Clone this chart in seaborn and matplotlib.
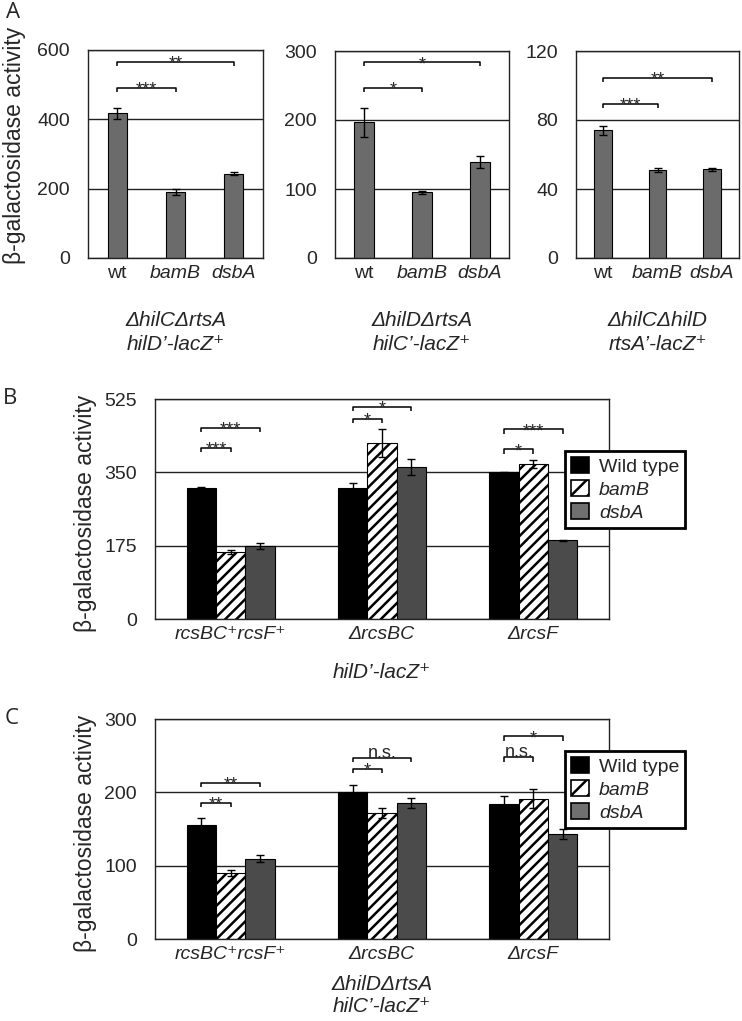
import numpy as np
import pandas as pd
import matplotlib
matplotlib.use("Agg")
import matplotlib.pyplot as plt
import seaborn as sns
from matplotlib.patches import Patch

sns.set_theme(style="white")
plt.rcParams['font.family'] = ['Liberation Sans', 'DejaVu Sans']
plt.rcParams['hatch.linewidth'] = 1.8
plt.rcParams['hatch.color'] = 'black'

W, H = 742, 1021

# ---- panel A data ----
a_strains = ["wt", "bamB", "dsbA"]
a_vals = [[417, 190, 243], [197, 95, 139], [74, 50.8, 51.4]]
a_errs = [[15, 9, 4], [21, 2, 9], [2.5, 1.2, 0.8]]
a_ymax = [600, 300, 120]
a_ticks = [[0, 200, 400, 600], [0, 100, 200, 300], [0, 40, 80, 120]]
a_labels = [("ΔhilCΔrtsA", "hilD’-lacZ⁺"),
            ("ΔhilDΔrtsA", "hilC’-lacZ⁺"),
            ("ΔhilCΔhilD", "rtsA’-lacZ⁺")]
# (text, from, to, height)
a_sig = [[("***", 0, 1, 491), ("**", 0, 2, 566)],
         [("*", 0, 1, 247), ("*", 0, 2, 284)],
         [("***", 0, 1, 89.4), ("**", 0, 2, 104.4)]]

# ---- panels B / C data ----
groups = ["rcsBC⁺rcsF⁺", "ΔrcsBC", "ΔrcsF"]
strains = ["Wild type", "bamB", "dsbA"]
b_vals = {"Wild type": [313, 313, 350], "bamB": [160, 420, 370], "dsbA": [175, 362, 188]}
b_errs = {"Wild type": [3, 11, 1], "bamB": [4, 33, 10], "dsbA": [7, 19, 1]}
b_ticks = [0, 175, 350, 525]
b_sig = [("***", 0, 0, 1, 409), ("***", 0, 0, 2, 456),
         ("*", 1, 0, 1, 478), ("*", 1, 0, 2, 506),
         ("*", 2, 0, 1, 405), ("***", 2, 0, 2, 453)]

c_vals = {"Wild type": [155, 200, 184.5], "bamB": [90, 172, 191], "dsbA": [109.5, 185, 143]}
c_errs = {"Wild type": [10, 10, 10], "bamB": [4, 7, 13], "dsbA": [5, 7, 7]}
c_ticks = [0, 100, 200, 300]
c_sig = [("**", 0, 0, 1, 185.5), ("**", 0, 0, 2, 212.7),
         ("*", 1, 0, 1, 231.8), ("n.s.", 1, 0, 2, 246.8),
         ("n.s.", 2, 0, 1, 247.7), ("*", 2, 0, 2, 276.3)]

bar_colors = {"Wild type": "#000000", "bamB": "#ffffff", "dsbA": "#4b4b4b"}


def px_axes(fig, x0, y0, x1, y1):
    return fig.add_axes([x0 / W, 1 - y1 / H, (x1 - x0) / W, (y1 - y0) / H])


def style_axes(ax, ymax, ticks):
    ax.set_ylim(0, ymax)
    ax.set_xlim(-0.5, 2.5)
    ax.set_yticks(ticks)
    ax.yaxis.grid(True, color='#222222', linewidth=1.0)
    ax.set_axisbelow(True)
    for s in ax.spines.values():
        s.set_visible(True)
        s.set_color('#222222')
        s.set_linewidth(1.0)
    ax.tick_params(axis='y', length=0, pad=13, labelsize=14)
    ax.tick_params(axis='x', length=0, pad=5, labelsize=14)
    ax.set_xlabel("")


def bracket(ax, x0, x1, y, text, ymax):
    tick = ymax * 0.02
    ax.plot([x0, x0, x1, x1], [y - tick, y, y, y - tick], color='black',
            lw=1.1, zorder=5, solid_capstyle='butt')
    dy = 0 if text == "n.s." else -5
    ax.annotate(text, xy=((x0 + x1) / 2, y), xytext=(0, dy), textcoords='offset points',
                ha='center', va='baseline', fontsize=13, zorder=6)


fig = plt.figure(figsize=(W / 100, H / 100), dpi=100)

# ---------- panel A ----------
a_boxes = [(88, 50, 263, 258), (335, 51, 509, 258), (576, 51, 739, 258)]
for k, box in enumerate(a_boxes):
    ax = px_axes(fig, *box)
    df = pd.DataFrame({"strain": a_strains, "value": a_vals[k]})
    sns.barplot(data=df, x="strain", y="value", color="#6b6b6b", width=0.33,
                errorbar=None, edgecolor='black', linewidth=0.8, saturation=1, ax=ax)
    bars = list(ax.containers[0])
    xs = [b.get_x() + b.get_width() / 2 for b in bars]
    ax.errorbar(xs, a_vals[k], yerr=a_errs[k], fmt='none', ecolor='black',
                elinewidth=1.0, capsize=3, capthick=1.0, zorder=4)
    style_axes(ax, a_ymax[k], a_ticks[k])
    ax.set_ylabel("")
    for lbl in ax.get_xticklabels():
        if lbl.get_text() != "wt":
            lbl.set_fontstyle('italic')
    for text, i0, i1, y in a_sig[k]:
        bracket(ax, xs[i0], xs[i1], y, text, a_ymax[k])
    cx = (box[0] + box[2]) / 2 / W
    fig.text(cx, 1 - 320 / H, a_labels[k][0], ha='center', va='center',
             fontsize=15, fontstyle='italic')
    fig.text(cx, 1 - 344 / H, a_labels[k][1], ha='center', va='center',
             fontsize=15, fontstyle='italic')
    if k == 0:
        ax.set_ylabel("β-galactosidase activity", fontsize=16.5)
        ax.yaxis.set_label_coords(-0.355, 0.54)


def grouped_panel(box, vals, errs, ymax, ticks, sig, legend_top):
    ax = px_axes(fig, *box)
    rows = []
    for s in strains:
        for g, v in zip(groups, vals[s]):
            rows.append({"group": g, "strain": s, "value": v})
    df = pd.DataFrame(rows)
    sns.barplot(data=df, x="group", y="value", hue="strain", hue_order=strains,
                palette=bar_colors, width=0.58, errorbar=None, edgecolor='black',
                linewidth=0.8, saturation=1, legend=False, ax=ax)
    conts = list(ax.containers[:3])
    for b in conts[1]:
        b.set_hatch('///')
    centers = []
    for s, cont in zip(strains, conts):
        xs = [b.get_x() + b.get_width() / 2 for b in cont]
        centers.append(xs)
        ax.errorbar(xs, vals[s], yerr=errs[s], fmt='none', ecolor='black',
                    elinewidth=1.0, capsize=3, capthick=1.0, zorder=4)
    style_axes(ax, ymax, ticks)
    for lbl in ax.get_xticklabels():
        lbl.set_fontstyle('italic')
    for text, g, h0, h1, y in sig:
        bracket(ax, centers[h0][g], centers[h1][g], y, text, ymax)
    ax.set_ylabel("β-galactosidase activity", fontsize=16.5)
    ax.yaxis.set_label_coords(-0.128, 0.48)

    handles = [Patch(facecolor='black', edgecolor='black', linewidth=1.2),
               Patch(facecolor='white', edgecolor='black', hatch='//', linewidth=1.2),
               Patch(facecolor='#707070', edgecolor='black', linewidth=1.2)]
    lx = (565 - box[0]) / (box[2] - box[0])
    ly = (box[3] - legend_top) / (box[3] - box[1])
    leg = ax.legend(handles, strains, loc='upper left', bbox_to_anchor=(lx, ly),
                    fontsize=14, frameon=True, fancybox=False, framealpha=1,
                    edgecolor='black', borderpad=0.3, handlelength=0.95,
                    handleheight=0.9, handletextpad=0.5, labelspacing=0.22,
                    borderaxespad=0)
    leg.get_frame().set_linewidth(2.0)
    leg.set_zorder(10)
    for t in leg.get_texts()[1:]:
        t.set_fontstyle('italic')
    return ax


grouped_panel((155, 399, 609, 619), b_vals, b_errs, 525, b_ticks, b_sig, 451)
fig.text(382 / W, 1 - 672 / H, "hilD’-lacZ⁺", ha='center', va='center',
         fontsize=15, fontstyle='italic')

grouped_panel((155, 719, 609, 939), c_vals, c_errs, 300, c_ticks, c_sig, 751)
fig.text(382 / W, 1 - 985 / H, "ΔhilDΔrtsA", ha='center', va='center',
         fontsize=15, fontstyle='italic')
fig.text(382 / W, 1 - 1006 / H, "hilC’-lacZ⁺", ha='center', va='center',
         fontsize=15, fontstyle='italic')

# panel letters
for letter, x, y in [("A", 13, 13), ("B", 10, 398), ("C", 12, 719)]:
    fig.text(x / W, 1 - y / H, letter, ha='center', va='center', fontsize=16,
             family=['Open Sans', 'DejaVu Sans'])

fig.savefig("out.png", dpi=100)
